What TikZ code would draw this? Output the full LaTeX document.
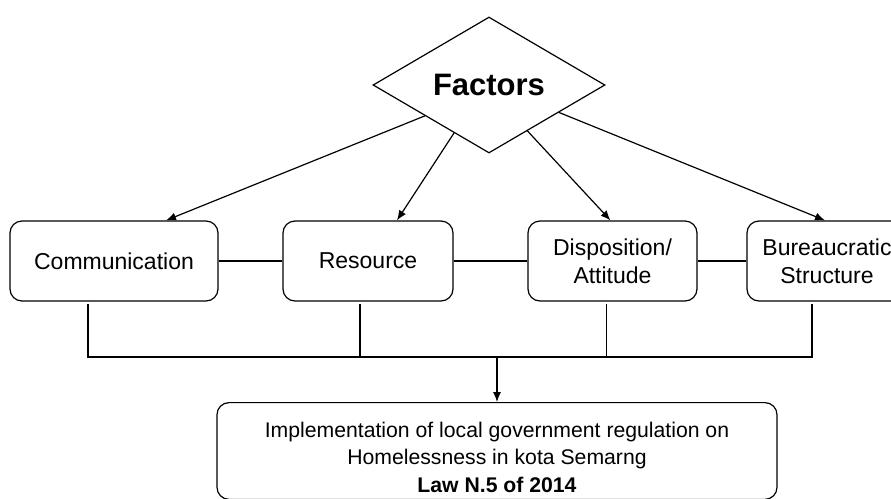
\documentclass[tikz,border=0pt]{standalone}
\usepackage{fontspec}
\setmainfont{Liberation Sans}
\usetikzlibrary{shapes.geometric,arrows.meta,calc}

\begin{document}
\begin{tikzpicture}
  [x=0.5pt,y=-0.5pt,line width=0.6pt,
   box/.style={draw,rounded corners=6pt,minimum height=40pt,align=center,
     font=\fontsize{11.5}{14}\selectfont},
   arr/.style={-{Latex[length=5pt,width=4pt]}}]
  \useasboundingbox (0,0) rectangle (891,499);

  \node[diamond,draw,minimum width=116pt,minimum height=68pt,inner sep=0pt,
    font=\fontsize{15.5}{18}\selectfont\bfseries] (fac) at (489,85) {Factors};

  \node[box,minimum width=104pt] (comm) at (114,261) {Communication};
  \node[box,minimum width=85pt]  (res)  at (368,261) {Resource};
  \node[box,minimum width=84.5pt] (disp) at (612.5,261) {Disposition/\\Attitude};
  \node[box,minimum width=80pt]  (bur)  at (827,261) {Bureaucratic\\Structure};

  \node[box,minimum width=280pt,minimum height=47pt,
    font=\fontsize{10.6}{13.8}\selectfont] (law) at (497,451)
    {\rule{0pt}{14pt}Implementation of local government regulation on\\
     Homelessness in kota Semarng\\ \textbf{Law N.5 of 2014}};

  % from the diamond to the four factors
  \draw[arr] ($(fac.west)!0.45!(fac.south)$) -- ([xshift=26pt]comm.north);
  \draw[arr] ($(fac.west)!0.7!(fac.south)$)  -- ([xshift=14.5pt]res.north);
  \draw[arr] ($(fac.south)!0.33!(fac.east)$) -- ([xshift=-1pt]disp.north);
  \draw[arr] ($(fac.south)!0.6!(fac.east)$)  -- ([xshift=-1pt]bur.north);

  \foreach \from/\to in {comm/res,res/disp,disp/bur}
    \draw (\from) -- (\to);

  % joining line down to the law
  \coordinate (bus) at (497,357);
  \foreach \n/\dx in {comm/-13pt,res/-4pt,disp/-3pt,bur/-7.5pt}
    \draw ([xshift=\dx,yshift=-1pt]\n.south) |- (bus);
  \draw[arr] (bus) -- (law.north);

\end{tikzpicture}
\end{document}
